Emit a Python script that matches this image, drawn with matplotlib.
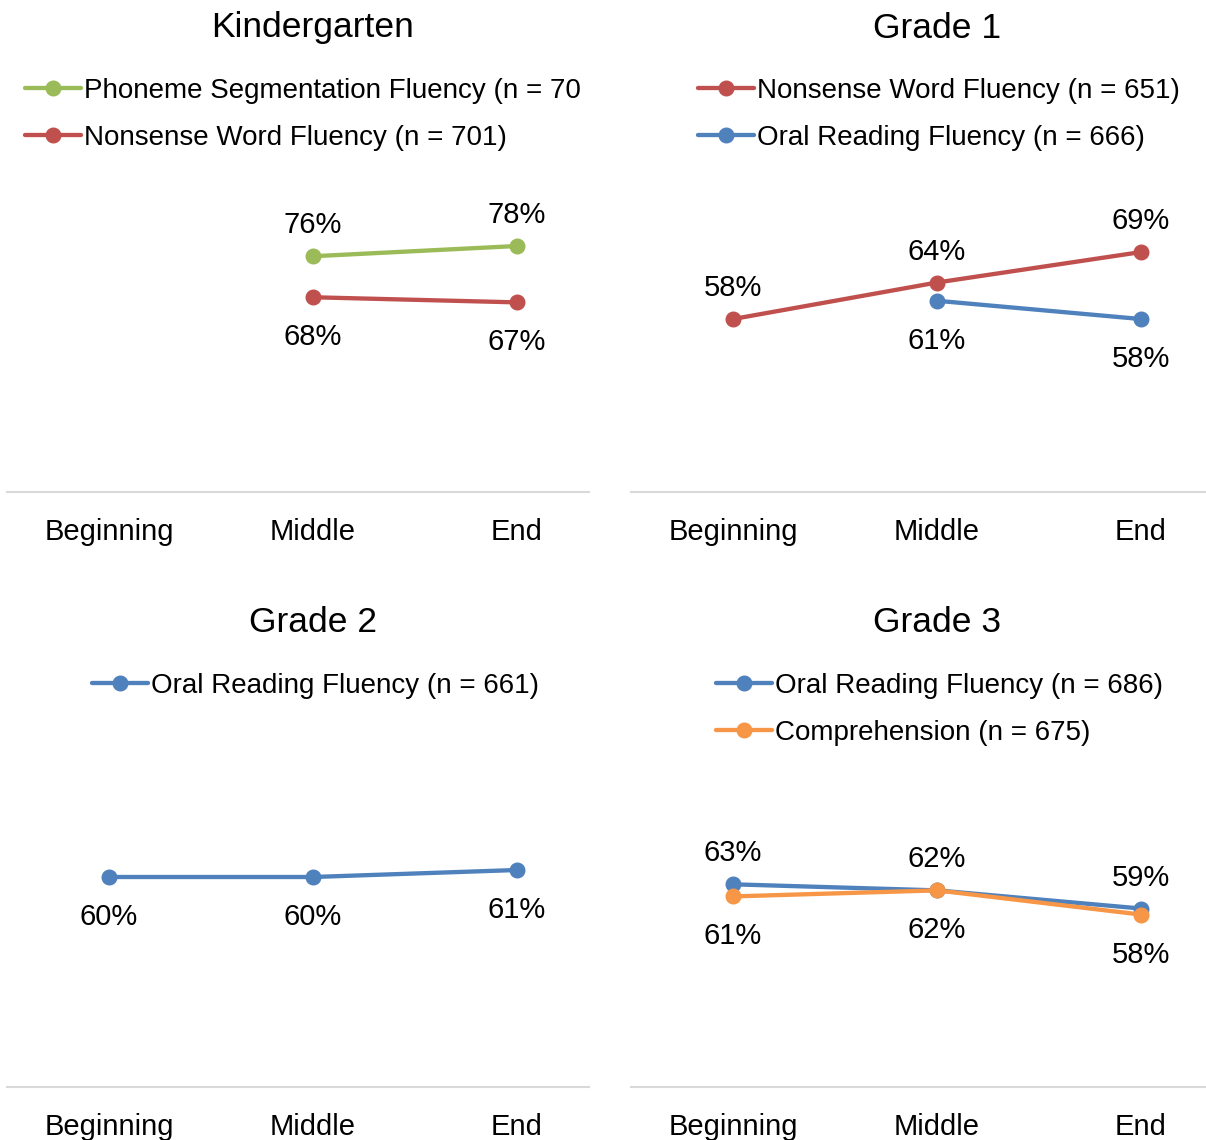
import numpy as np
import matplotlib.pyplot as plt

plt.rcParams['font.family'] = ['Liberation Sans', 'DejaVu Sans']

stages = ["Beginning", "Middle", "End"]

k_psf = [np.nan, 76, 78]
k_nwf = [np.nan, 68, 67]
g1_nwf = [58, 64, 69]
g1_orf = [np.nan, 61, 58]
g2_orf = [60, 60, 61]
g3_orf = [63, 62, 59]
g3_comp = [61, 62, 58]

GREEN, RED, BLUE, ORANGE = "#9BBB59", "#C0504D", "#4F81BD", "#F79646"

W, H = 1206, 1140
fig = plt.figure(figsize=(W / 100, H / 100), dpi=100)


def box(x0, x1, ybot, ytop):
    return [x0 / W, 1 - ybot / H, (x1 - x0) / W, (ybot - ytop) / H]


panels = [
    dict(title="Kindergarten", col=0, row=0, ylim=(30, 100.05), ytop=133, leg_x=25,
         series=[("Phoneme Segmentation Fluency (n = 70", k_psf, GREEN, "above"),
                 ("Nonsense Word Fluency (n = 701)", k_nwf, RED, "below")]),
    dict(title="Grade 1", col=1, row=0, ylim=(29.6, 89.7), ytop=126, leg_x=698,
         series=[("Nonsense Word Fluency (n = 651)", g1_nwf, RED, "above"),
                 ("Oral Reading Fluency (n = 666)", g1_orf, BLUE, "below")]),
    dict(title="Grade 2", col=0, row=1, ylim=(30, 90), ytop=667, leg_x=92,
         series=[("Oral Reading Fluency (n = 661)", g2_orf, BLUE, "below")]),
    dict(title="Grade 3", col=1, row=1, ylim=(29.5, 89.83), ytop=722, leg_x=716,
         series=[("Oral Reading Fluency (n = 686)", g3_orf, BLUE, "above"),
                 ("Comprehension (n = 675)", g3_comp, ORANGE, "below")]),
]

cols = {0: (7, 589), 1: (631, 1206)}
step = 204
row_dy = 595

for p in panels:
    x0, x1 = cols[p["col"]]
    dy = p["row"] * row_dy
    ybot = 492 + dy
    ax = fig.add_axes(box(x0, x1, ybot, p["ytop"]))
    ax.set_xlim(-0.5, (x1 - x0) / step - 0.5)
    ax.set_ylim(*p["ylim"])
    for s in ["top", "left", "right"]:
        ax.spines[s].set_visible(False)
    ax.spines["bottom"].set_color("#D9D9D9")
    ax.spines["bottom"].set_linewidth(1.5)
    ax.set_yticks([])
    ax.set_xticks(range(len(stages)), stages)
    ax.tick_params(axis="x", length=0, pad=19, labelsize=21)
    ax.patch.set_alpha(0)

    handles = []
    for label, vals, color, where in p["series"]:
        ln, = ax.plot(range(len(stages)), vals, color=color, lw=3.1,
                      marker="o", ms=10.5, solid_capstyle="round", label=label)
        handles.append(ln)
        for i, v in enumerate(vals):
            if np.isnan(v):
                continue
            off = 31 if where == "above" else -40
            ax.annotate(f"{v:.0f}%", (i, v), xytext=(0, off),
                        textcoords="offset pixels", ha="center", va="center",
                        fontsize=21, annotation_clip=False)

    ax.legend(handles=handles, loc="upper left",
              bbox_to_anchor=(p["leg_x"] / W, 1 - (78 + dy) / H),
              bbox_transform=fig.transFigure, frameon=False, fontsize=20,
              borderpad=0, borderaxespad=0, handlelength=2.0,
              handletextpad=0.12, labelspacing=0.75, numpoints=1)

    cx = x0 + step * 1.5
    fig.text(cx / W, 1 - (28 + dy) / H, p["title"], ha="center", va="center",
             fontsize=25.5)

fig.savefig("out.png", dpi=100, facecolor="white")
